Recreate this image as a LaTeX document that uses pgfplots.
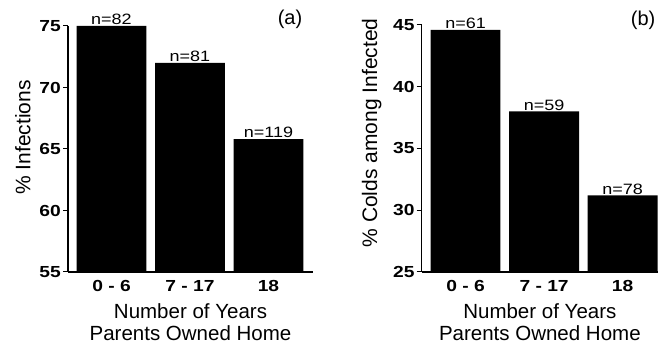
\documentclass[border=0pt]{standalone}
\usepackage{pgfplots}
\pgfplotsset{compat=1.18}
\usepackage{pgfplotstable}
\usepackage{fontspec}
\setmainfont{Liberation Sans}
\newfontfamily\tickfont[FakeStretch=1.2]{Liberation Sans}
\newfontfamily\nfont[FakeStretch=1.2]{Liberation Sans}

\pgfplotstableread{
x y n
0 75.0 82
1 72.0 81
2 65.8 119
}\dataA
\pgfplotstableread{
x y n
0 44.6 61
1 38.0 59
2 31.2 78
}\dataB

\pgfplotsset{
  mybar/.style={
    scale only axis, anchor=south west,
    axis lines=left,
    axis line style={-, line width=1.1pt},
    ybar, bar width=0.89,
    xtick={0,1,2}, xticklabels={0 - 6, 7 - 17, 18},
    major x tick style={draw=none},
    ytick align=outside,
    major y tick style={line width=1pt, black},
    major tick length=5pt,
    /pgf/number format/assume math mode=true,
    ticklabel style={font=\tickfont\bfseries\fontsize{16}{16}\selectfont},
    yticklabel style={inner xsep=2pt},
    xticklabel style={inner ysep=0pt, yshift=-3pt},
    xlabel={Number of Years\\Parents Owned Home},
    xlabel style={font=\fontsize{20.5}{22}\selectfont, align=center, at={(rel axis cs:0.5,0)}, anchor=north, inner sep=0pt, yshift=-31pt},
    ylabel style={font=\fontsize{21}{21}\selectfont, anchor=center},
    point meta=explicit symbolic,
    nodes near coords={n=\pgfplotspointmeta},
    every node near coord/.append style={font=\nfont\fontsize{15}{15}\selectfont, anchor=south, inner sep=0pt, yshift=1pt},
    title style={font=\fontsize{20}{20}\selectfont, anchor=center},
  }
}

\begin{document}
\begin{tikzpicture}
\useasboundingbox (0,0) rectangle (658pt,345pt);
\begin{axis}[mybar,
  at={(68pt,73pt)}, width=245pt, height=246pt,
  xmin=-0.554, xmax=2.567, ymin=55, ymax=75,
  ytick={55,60,65,70,75},
  ylabel={\% Infections},
  ylabel style={at={(rel axis cs:-0.184,0.547)}},
  title={(a)}, title style={at={(rel axis cs:0.906,1.004)}},
]
\addplot[fill=black, draw=none] table[x=x, y=y, meta=n] {\dataA};
\end{axis}
\begin{axis}[mybar,
  at={(421.7pt,73pt)}, width=236.3pt, height=247pt,
  xmin=-0.558, xmax=2.45, ymin=25, ymax=45,
  ytick={25,30,35,40,45},
  ylabel={\% Colds among Infected},
  ylabel style={at={(rel axis cs:-0.212,0.563)}},
  title={(b)}, title style={at={(rel axis cs:0.937,0.996)}},
]
\addplot[fill=black, draw=none] table[x=x, y=y, meta=n] {\dataB};
\end{axis}
\end{tikzpicture}
\end{document}
